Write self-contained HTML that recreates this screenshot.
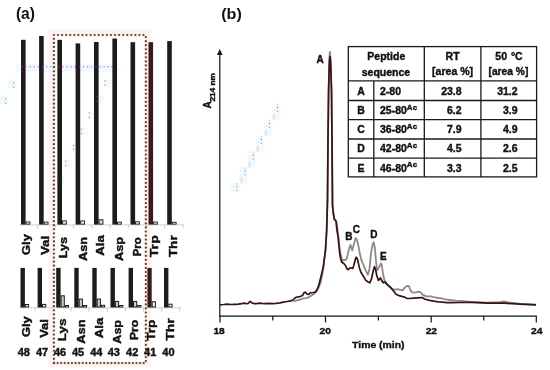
<!DOCTYPE html>
<html><head><meta charset="utf-8"><style>
html,body{margin:0;padding:0;background:#fff;}
svg{display:block;font-family:"Liberation Sans", sans-serif;-webkit-font-smoothing:antialiased;will-change:transform;}
text{stroke:#111;stroke-width:0.38px;paint-order:stroke;}
</style></head><body>
<svg width="550" height="370" viewBox="0 0 550 370">
<rect width="550" height="370" fill="#fff"/>
<rect x="50.7" y="31.8" width="98.3" height="333.4" fill="none" stroke="#fdf2f5" stroke-width="4.4"/>
<rect x="16.1" y="64.1" width="102" height="7.7" fill="#eafcfc"/>
<rect x="104.1" y="79.4" width="7.4" height="7.6" fill="#eafcfc"/>
<rect x="96.2" y="95.5" width="7.4" height="7.6" fill="#eafcfc"/>
<rect x="88.3" y="111.6" width="7.4" height="7.6" fill="#eafcfc"/>
<rect x="80.4" y="127.7" width="7.4" height="7.6" fill="#eafcfc"/>
<rect x="72.5" y="143.9" width="7.4" height="7.6" fill="#eafcfc"/>
<rect x="64.7" y="159.7" width="7.4" height="7.6" fill="#eafcfc"/>
<rect x="56.8" y="175.8" width="7.4" height="7.6" fill="#eafcfc"/>
<rect x="8.0" y="79.7" width="8.1" height="8.1" fill="#eafcfc"/>
<rect x="0.0" y="95.8" width="8.1" height="8.1" fill="#eafcfc"/>
<rect x="272.0" y="103.8" width="8" height="16" fill="#eafcfc"/>
<rect x="273.0" y="113.7" width="1.8" height="6.2" fill="#ffd0f2"/>
<rect x="263.9" y="119.9" width="8" height="16" fill="#eafcfc"/>
<rect x="264.9" y="129.8" width="1.8" height="6.2" fill="#ffd0f2"/>
<rect x="255.8" y="135.8" width="8" height="16" fill="#eafcfc"/>
<rect x="256.8" y="145.7" width="1.8" height="6.2" fill="#ffd0f2"/>
<rect x="247.7" y="151.6" width="8" height="16" fill="#eafcfc"/>
<rect x="248.7" y="161.5" width="1.8" height="6.2" fill="#ffd0f2"/>
<rect x="239.6" y="167.4" width="8" height="16" fill="#eafcfc"/>
<rect x="240.6" y="177.3" width="1.8" height="6.2" fill="#ffd0f2"/>
<rect x="231.5" y="183.2" width="8" height="9" fill="#eafcfc"/>
<line x1="19" y1="224.9" x2="184" y2="224.9" stroke="#c8c8c8" stroke-width="0.8"/>
<line x1="37.3" y1="224.9" x2="37.3" y2="228.5" stroke="#c0c0c0" stroke-width="0.8"/>
<line x1="55.5" y1="224.9" x2="55.5" y2="228.5" stroke="#c0c0c0" stroke-width="0.8"/>
<line x1="73.7" y1="224.9" x2="73.7" y2="228.5" stroke="#c0c0c0" stroke-width="0.8"/>
<line x1="91.9" y1="224.9" x2="91.9" y2="228.5" stroke="#c0c0c0" stroke-width="0.8"/>
<line x1="110.1" y1="224.9" x2="110.1" y2="228.5" stroke="#c0c0c0" stroke-width="0.8"/>
<line x1="128.3" y1="224.9" x2="128.3" y2="228.5" stroke="#c0c0c0" stroke-width="0.8"/>
<line x1="146.5" y1="224.9" x2="146.5" y2="228.5" stroke="#c0c0c0" stroke-width="0.8"/>
<line x1="164.7" y1="224.9" x2="164.7" y2="228.5" stroke="#c0c0c0" stroke-width="0.8"/>
<line x1="182.9" y1="224.9" x2="182.9" y2="228.5" stroke="#c0c0c0" stroke-width="0.8"/>
<line x1="19" y1="307.8" x2="182" y2="307.8" stroke="#c8c8c8" stroke-width="0.8"/>
<line x1="35.1" y1="307.8" x2="35.1" y2="311.5" stroke="#c0c0c0" stroke-width="0.8"/>
<line x1="53.2" y1="307.8" x2="53.2" y2="311.5" stroke="#c0c0c0" stroke-width="0.8"/>
<line x1="71.2" y1="307.8" x2="71.2" y2="311.5" stroke="#c0c0c0" stroke-width="0.8"/>
<line x1="89.2" y1="307.8" x2="89.2" y2="311.5" stroke="#c0c0c0" stroke-width="0.8"/>
<line x1="107.3" y1="307.8" x2="107.3" y2="311.5" stroke="#c0c0c0" stroke-width="0.8"/>
<line x1="125.3" y1="307.8" x2="125.3" y2="311.5" stroke="#c0c0c0" stroke-width="0.8"/>
<line x1="143.4" y1="307.8" x2="143.4" y2="311.5" stroke="#c0c0c0" stroke-width="0.8"/>
<line x1="161.5" y1="307.8" x2="161.5" y2="311.5" stroke="#c0c0c0" stroke-width="0.8"/>
<line x1="179.5" y1="307.8" x2="179.5" y2="311.5" stroke="#c0c0c0" stroke-width="0.8"/>
<rect x="21" y="39.8" width="4.6" height="184.8" fill="#1c1c1c"/>
<rect x="26.05" y="221.95" width="3.9" height="2.20" fill="#f4f4f4" stroke="#1c1c1c" stroke-width="0.9"/>
<rect x="39.1" y="36" width="4.6" height="188.6" fill="#1c1c1c"/>
<rect x="44.15" y="222.05" width="3.9" height="2.10" fill="#f4f4f4" stroke="#1c1c1c" stroke-width="0.9"/>
<rect x="57.4" y="39.8" width="4.6" height="184.8" fill="#1c1c1c"/>
<rect x="62.45" y="220.85" width="3.9" height="3.30" fill="#e8e8e8" stroke="#1c1c1c" stroke-width="0.9"/>
<rect x="75.6" y="43.4" width="4.6" height="181.2" fill="#1c1c1c"/>
<rect x="80.65" y="220.95" width="3.9" height="3.20" fill="#e8e8e8" stroke="#1c1c1c" stroke-width="0.9"/>
<rect x="94" y="42" width="4.6" height="182.6" fill="#1c1c1c"/>
<rect x="99.05" y="219.75" width="3.9" height="4.40" fill="#d8d8d8" stroke="#1c1c1c" stroke-width="0.9"/>
<rect x="112.4" y="38.5" width="4.6" height="186.1" fill="#1c1c1c"/>
<rect x="117.45" y="222.15" width="3.9" height="2.00" fill="#f0f0f0" stroke="#1c1c1c" stroke-width="0.9"/>
<rect x="130.5" y="42.2" width="4.6" height="182.4" fill="#1c1c1c"/>
<rect x="135.55" y="221.75" width="3.9" height="2.40" fill="#f0f0f0" stroke="#1c1c1c" stroke-width="0.9"/>
<rect x="148.5" y="42.2" width="4.6" height="182.4" fill="#3a1826"/>
<rect x="153.55" y="222.05" width="3.9" height="2.10" fill="#f4f4f4" stroke="#1c1c1c" stroke-width="0.9"/>
<rect x="167.2" y="41.1" width="4.6" height="183.5" fill="#1c1c1c"/>
<rect x="172.25" y="222.25" width="3.9" height="1.90" fill="#f4f4f4" stroke="#1c1c1c" stroke-width="0.9"/>
<rect x="20.5" y="267.9" width="4.4" height="39.6" fill="#1c1c1c"/>
<rect x="25.40" y="304.50" width="3.2" height="2.50" fill="#fafafa" stroke="#1c1c1c" stroke-width="1.0"/>
<rect x="37.6" y="267.9" width="4.4" height="39.6" fill="#1c1c1c"/>
<rect x="42.50" y="304.40" width="3.2" height="2.60" fill="#fafafa" stroke="#1c1c1c" stroke-width="1.0"/>
<rect x="56.2" y="267.9" width="4.4" height="39.6" fill="#1c1c1c"/>
<rect x="61.10" y="295.80" width="3.2" height="11.20" fill="#cbcbcb" stroke="#1c1c1c" stroke-width="1.0"/>
<rect x="65.30" y="305.50" width="3.2" height="1.50" fill="#fafafa" stroke="#1c1c1c" stroke-width="1.0"/>
<rect x="74.3" y="267.9" width="4.4" height="39.6" fill="#1c1c1c"/>
<rect x="79.20" y="299.10" width="3.2" height="7.90" fill="#cbcbcb" stroke="#1c1c1c" stroke-width="1.0"/>
<rect x="83.40" y="305.50" width="3.2" height="1.50" fill="#fafafa" stroke="#1c1c1c" stroke-width="1.0"/>
<rect x="92.3" y="267.9" width="4.4" height="39.6" fill="#1c1c1c"/>
<rect x="97.20" y="299.00" width="3.2" height="8.00" fill="#cbcbcb" stroke="#1c1c1c" stroke-width="1.0"/>
<rect x="101.40" y="305.30" width="3.2" height="1.70" fill="#fafafa" stroke="#1c1c1c" stroke-width="1.0"/>
<rect x="110.5" y="267.9" width="4.4" height="39.6" fill="#1c1c1c"/>
<rect x="115.40" y="301.40" width="3.2" height="5.60" fill="#cbcbcb" stroke="#1c1c1c" stroke-width="1.0"/>
<rect x="119.60" y="305.50" width="3.2" height="1.50" fill="#fafafa" stroke="#1c1c1c" stroke-width="1.0"/>
<rect x="128.6" y="267.9" width="4.4" height="39.6" fill="#1c1c1c"/>
<rect x="133.50" y="301.40" width="3.2" height="5.60" fill="#cbcbcb" stroke="#1c1c1c" stroke-width="1.0"/>
<rect x="137.70" y="305.50" width="3.2" height="1.50" fill="#fafafa" stroke="#1c1c1c" stroke-width="1.0"/>
<rect x="147.3" y="267.9" width="4.4" height="39.6" fill="#3a1826"/>
<rect x="152.20" y="301.80" width="3.2" height="5.20" fill="#fafafa" stroke="#1c1c1c" stroke-width="1.0"/>
<rect x="164.0" y="267.9" width="4.4" height="39.6" fill="#1c1c1c"/>
<rect x="168.90" y="304.20" width="3.2" height="2.80" fill="#fafafa" stroke="#1c1c1c" stroke-width="1.0"/>
<circle cx="22.00" cy="66.80" r="0.75" fill="#c0103c"/>
<circle cx="26.10" cy="66.80" r="0.75" fill="#ff66d8"/>
<circle cx="30.20" cy="66.80" r="0.75" fill="#ff66d8"/>
<circle cx="34.30" cy="66.80" r="0.75" fill="#ff66d8"/>
<circle cx="38.40" cy="66.80" r="0.75" fill="#ff66d8"/>
<circle cx="42.50" cy="66.80" r="0.75" fill="#c0103c"/>
<circle cx="46.60" cy="66.80" r="0.75" fill="#ff66d8"/>
<circle cx="50.70" cy="66.80" r="0.75" fill="#ff66d8"/>
<circle cx="54.80" cy="66.80" r="0.75" fill="#ff66d8"/>
<circle cx="58.90" cy="66.80" r="0.75" fill="#c0103c"/>
<circle cx="63.00" cy="66.80" r="0.75" fill="#ff66d8"/>
<circle cx="67.10" cy="66.80" r="0.75" fill="#ff66d8"/>
<circle cx="71.20" cy="66.80" r="0.75" fill="#ff66d8"/>
<circle cx="75.30" cy="66.80" r="0.75" fill="#c0103c"/>
<circle cx="79.40" cy="66.80" r="0.75" fill="#c0103c"/>
<circle cx="83.50" cy="66.80" r="0.75" fill="#ff66d8"/>
<circle cx="87.60" cy="66.80" r="0.75" fill="#ff66d8"/>
<circle cx="91.70" cy="66.80" r="0.75" fill="#ff66d8"/>
<circle cx="95.80" cy="66.80" r="0.75" fill="#c0103c"/>
<circle cx="99.90" cy="66.80" r="0.75" fill="#ff66d8"/>
<circle cx="104.00" cy="66.80" r="0.75" fill="#ff66d8"/>
<circle cx="108.10" cy="66.80" r="0.75" fill="#ff66d8"/>
<circle cx="112.20" cy="66.80" r="0.75" fill="#c0103c"/>
<circle cx="22.00" cy="70.90" r="0.75" fill="#c0103c"/>
<circle cx="105.10" cy="80.90" r="0.75" fill="#ff66d8"/>
<circle cx="105.10" cy="85.10" r="0.75" fill="#ff66d8"/>
<circle cx="97.20" cy="97.00" r="0.75" fill="#c0103c"/>
<circle cx="97.20" cy="101.20" r="0.75" fill="#c0103c"/>
<circle cx="89.30" cy="113.10" r="0.75" fill="#ff66d8"/>
<circle cx="89.30" cy="117.30" r="0.75" fill="#ff66d8"/>
<circle cx="81.40" cy="129.20" r="0.75" fill="#ff66d8"/>
<circle cx="81.40" cy="133.40" r="0.75" fill="#ff66d8"/>
<circle cx="73.50" cy="145.40" r="0.75" fill="#ff66d8"/>
<circle cx="73.50" cy="149.60" r="0.75" fill="#ff66d8"/>
<circle cx="65.70" cy="161.20" r="0.75" fill="#ff66d8"/>
<circle cx="65.70" cy="165.40" r="0.75" fill="#ff66d8"/>
<circle cx="57.80" cy="177.30" r="0.75" fill="#c0103c"/>
<circle cx="57.80" cy="181.50" r="0.75" fill="#c0103c"/>
<circle cx="13.70" cy="83.00" r="0.75" fill="#ff66d8"/>
<circle cx="13.70" cy="87.20" r="0.75" fill="#ff66d8"/>
<circle cx="5.70" cy="99.10" r="0.75" fill="#ff66d8"/>
<circle cx="5.70" cy="103.30" r="0.75" fill="#ff66d8"/>
<circle cx="277.50" cy="104.30" r="0.5" fill="#ff66d8"/>
<circle cx="277.50" cy="107.40" r="0.75" fill="#ff66d8"/>
<circle cx="277.50" cy="111.20" r="0.75" fill="#ff66d8"/>
<circle cx="269.40" cy="120.40" r="0.5" fill="#ff66d8"/>
<circle cx="269.40" cy="123.50" r="0.75" fill="#ff66d8"/>
<circle cx="269.40" cy="127.30" r="0.75" fill="#ff66d8"/>
<circle cx="261.30" cy="136.30" r="0.5" fill="#ff66d8"/>
<circle cx="261.30" cy="139.40" r="0.75" fill="#ff66d8"/>
<circle cx="261.30" cy="143.20" r="0.75" fill="#ff66d8"/>
<circle cx="253.20" cy="152.10" r="0.5" fill="#ff66d8"/>
<circle cx="253.20" cy="155.20" r="0.75" fill="#ff66d8"/>
<circle cx="253.20" cy="159.00" r="0.75" fill="#ff66d8"/>
<circle cx="245.10" cy="167.90" r="0.5" fill="#ff66d8"/>
<circle cx="245.10" cy="171.00" r="0.75" fill="#ff66d8"/>
<circle cx="245.10" cy="174.80" r="0.75" fill="#ff66d8"/>
<circle cx="237.00" cy="183.70" r="0.5" fill="#ff66d8"/>
<circle cx="237.00" cy="186.80" r="0.75" fill="#ff66d8"/>
<circle cx="237.00" cy="190.60" r="0.75" fill="#ff66d8"/>
<circle cx="53.95" cy="35.00" r="1.9" fill="#f7dccb" opacity="0.55"/>
<circle cx="58.02" cy="35.00" r="1.9" fill="#f7dccb" opacity="0.55"/>
<circle cx="62.09" cy="35.00" r="1.9" fill="#f7dccb" opacity="0.55"/>
<circle cx="66.16" cy="35.00" r="1.9" fill="#f7dccb" opacity="0.55"/>
<circle cx="70.23" cy="35.00" r="1.9" fill="#f7dccb" opacity="0.55"/>
<circle cx="74.30" cy="35.00" r="1.9" fill="#f7dccb" opacity="0.55"/>
<circle cx="78.37" cy="35.00" r="1.9" fill="#f7dccb" opacity="0.55"/>
<circle cx="82.44" cy="35.00" r="1.9" fill="#f7dccb" opacity="0.55"/>
<circle cx="86.51" cy="35.00" r="1.9" fill="#f7dccb" opacity="0.55"/>
<circle cx="90.58" cy="35.00" r="1.9" fill="#f7dccb" opacity="0.55"/>
<circle cx="94.65" cy="35.00" r="1.9" fill="#f7dccb" opacity="0.55"/>
<circle cx="98.72" cy="35.00" r="1.9" fill="#f7dccb" opacity="0.55"/>
<circle cx="102.80" cy="35.00" r="1.9" fill="#f7dccb" opacity="0.55"/>
<circle cx="106.87" cy="35.00" r="1.9" fill="#f7dccb" opacity="0.55"/>
<circle cx="110.94" cy="35.00" r="1.9" fill="#f7dccb" opacity="0.55"/>
<circle cx="115.01" cy="35.00" r="1.9" fill="#f7dccb" opacity="0.55"/>
<circle cx="119.08" cy="35.00" r="1.9" fill="#f7dccb" opacity="0.55"/>
<circle cx="123.15" cy="35.00" r="1.9" fill="#f7dccb" opacity="0.55"/>
<circle cx="127.22" cy="35.00" r="1.9" fill="#f7dccb" opacity="0.55"/>
<circle cx="131.29" cy="35.00" r="1.9" fill="#f7dccb" opacity="0.55"/>
<circle cx="135.36" cy="35.00" r="1.9" fill="#f7dccb" opacity="0.55"/>
<circle cx="139.43" cy="35.00" r="1.9" fill="#f7dccb" opacity="0.55"/>
<circle cx="143.50" cy="35.00" r="1.9" fill="#f7dccb" opacity="0.55"/>
<circle cx="53.90" cy="38.85" r="1.9" fill="#f7dccb" opacity="0.55"/>
<circle cx="53.90" cy="42.90" r="1.9" fill="#f7dccb" opacity="0.55"/>
<circle cx="53.90" cy="46.95" r="1.9" fill="#f7dccb" opacity="0.55"/>
<circle cx="53.90" cy="51.00" r="1.9" fill="#f7dccb" opacity="0.55"/>
<circle cx="53.90" cy="55.05" r="1.9" fill="#f7dccb" opacity="0.55"/>
<circle cx="53.90" cy="59.10" r="1.9" fill="#f7dccb" opacity="0.55"/>
<circle cx="53.90" cy="63.15" r="1.9" fill="#f7dccb" opacity="0.55"/>
<circle cx="53.90" cy="67.20" r="1.9" fill="#f7dccb" opacity="0.55"/>
<circle cx="53.90" cy="71.26" r="1.9" fill="#f7dccb" opacity="0.55"/>
<circle cx="53.90" cy="75.31" r="1.9" fill="#f7dccb" opacity="0.55"/>
<circle cx="53.90" cy="79.36" r="1.9" fill="#f7dccb" opacity="0.55"/>
<circle cx="53.90" cy="83.41" r="1.9" fill="#f7dccb" opacity="0.55"/>
<circle cx="53.90" cy="87.46" r="1.9" fill="#f7dccb" opacity="0.55"/>
<circle cx="53.90" cy="91.51" r="1.9" fill="#f7dccb" opacity="0.55"/>
<circle cx="53.90" cy="95.56" r="1.9" fill="#f7dccb" opacity="0.55"/>
<circle cx="53.90" cy="99.61" r="1.9" fill="#f7dccb" opacity="0.55"/>
<circle cx="53.90" cy="103.66" r="1.9" fill="#f7dccb" opacity="0.55"/>
<circle cx="53.90" cy="107.71" r="1.9" fill="#f7dccb" opacity="0.55"/>
<circle cx="53.90" cy="111.76" r="1.9" fill="#f7dccb" opacity="0.55"/>
<circle cx="53.90" cy="115.81" r="1.9" fill="#f7dccb" opacity="0.55"/>
<circle cx="53.90" cy="119.86" r="1.9" fill="#f7dccb" opacity="0.55"/>
<circle cx="53.90" cy="123.91" r="1.9" fill="#f7dccb" opacity="0.55"/>
<circle cx="53.90" cy="127.96" r="1.9" fill="#f7dccb" opacity="0.55"/>
<circle cx="53.90" cy="132.01" r="1.9" fill="#f7dccb" opacity="0.55"/>
<circle cx="53.90" cy="136.07" r="1.9" fill="#f7dccb" opacity="0.55"/>
<circle cx="53.90" cy="140.12" r="1.9" fill="#f7dccb" opacity="0.55"/>
<circle cx="53.90" cy="144.17" r="1.9" fill="#f7dccb" opacity="0.55"/>
<circle cx="53.90" cy="148.22" r="1.9" fill="#f7dccb" opacity="0.55"/>
<circle cx="53.90" cy="152.27" r="1.9" fill="#f7dccb" opacity="0.55"/>
<circle cx="53.90" cy="156.32" r="1.9" fill="#f7dccb" opacity="0.55"/>
<circle cx="53.90" cy="160.37" r="1.9" fill="#f7dccb" opacity="0.55"/>
<circle cx="53.90" cy="164.42" r="1.9" fill="#f7dccb" opacity="0.55"/>
<circle cx="53.90" cy="168.47" r="1.9" fill="#f7dccb" opacity="0.55"/>
<circle cx="53.90" cy="172.52" r="1.9" fill="#f7dccb" opacity="0.55"/>
<circle cx="53.90" cy="176.57" r="1.9" fill="#f7dccb" opacity="0.55"/>
<circle cx="53.90" cy="180.62" r="1.9" fill="#f7dccb" opacity="0.55"/>
<circle cx="53.90" cy="184.67" r="1.9" fill="#f7dccb" opacity="0.55"/>
<circle cx="53.90" cy="188.72" r="1.9" fill="#f7dccb" opacity="0.55"/>
<circle cx="53.90" cy="192.77" r="1.9" fill="#f7dccb" opacity="0.55"/>
<circle cx="53.90" cy="196.82" r="1.9" fill="#f7dccb" opacity="0.55"/>
<circle cx="53.90" cy="200.88" r="1.9" fill="#f7dccb" opacity="0.55"/>
<circle cx="53.90" cy="204.93" r="1.9" fill="#f7dccb" opacity="0.55"/>
<circle cx="53.90" cy="208.98" r="1.9" fill="#f7dccb" opacity="0.55"/>
<circle cx="53.90" cy="213.03" r="1.9" fill="#f7dccb" opacity="0.55"/>
<circle cx="53.90" cy="217.08" r="1.9" fill="#f7dccb" opacity="0.55"/>
<circle cx="53.90" cy="221.13" r="1.9" fill="#f7dccb" opacity="0.55"/>
<circle cx="53.90" cy="225.18" r="1.9" fill="#f7dccb" opacity="0.55"/>
<circle cx="53.90" cy="229.23" r="1.9" fill="#f7dccb" opacity="0.55"/>
<circle cx="53.90" cy="233.28" r="1.9" fill="#f7dccb" opacity="0.55"/>
<circle cx="53.90" cy="237.33" r="1.9" fill="#f7dccb" opacity="0.55"/>
<circle cx="53.90" cy="241.38" r="1.9" fill="#f7dccb" opacity="0.55"/>
<circle cx="53.90" cy="245.43" r="1.9" fill="#f7dccb" opacity="0.55"/>
<circle cx="53.90" cy="249.48" r="1.9" fill="#f7dccb" opacity="0.55"/>
<circle cx="53.90" cy="253.53" r="1.9" fill="#f7dccb" opacity="0.55"/>
<circle cx="53.90" cy="257.58" r="1.9" fill="#f7dccb" opacity="0.55"/>
<circle cx="53.90" cy="261.63" r="1.9" fill="#f7dccb" opacity="0.55"/>
<circle cx="53.90" cy="265.69" r="1.9" fill="#f7dccb" opacity="0.55"/>
<circle cx="53.90" cy="269.74" r="1.9" fill="#f7dccb" opacity="0.55"/>
<circle cx="53.90" cy="273.79" r="1.9" fill="#f7dccb" opacity="0.55"/>
<circle cx="53.90" cy="277.84" r="1.9" fill="#f7dccb" opacity="0.55"/>
<circle cx="53.90" cy="281.89" r="1.9" fill="#f7dccb" opacity="0.55"/>
<circle cx="53.90" cy="285.94" r="1.9" fill="#f7dccb" opacity="0.55"/>
<circle cx="53.90" cy="289.99" r="1.9" fill="#f7dccb" opacity="0.55"/>
<circle cx="53.90" cy="294.04" r="1.9" fill="#f7dccb" opacity="0.55"/>
<circle cx="53.90" cy="298.09" r="1.9" fill="#f7dccb" opacity="0.55"/>
<circle cx="53.90" cy="302.14" r="1.9" fill="#f7dccb" opacity="0.55"/>
<circle cx="53.90" cy="306.19" r="1.9" fill="#f7dccb" opacity="0.55"/>
<circle cx="53.90" cy="310.24" r="1.9" fill="#f7dccb" opacity="0.55"/>
<circle cx="53.90" cy="314.29" r="1.9" fill="#f7dccb" opacity="0.55"/>
<circle cx="53.90" cy="318.34" r="1.9" fill="#f7dccb" opacity="0.55"/>
<circle cx="53.90" cy="322.39" r="1.9" fill="#f7dccb" opacity="0.55"/>
<circle cx="53.90" cy="326.44" r="1.9" fill="#f7dccb" opacity="0.55"/>
<circle cx="53.90" cy="330.50" r="1.9" fill="#f7dccb" opacity="0.55"/>
<circle cx="53.90" cy="334.55" r="1.9" fill="#f7dccb" opacity="0.55"/>
<circle cx="53.90" cy="338.60" r="1.9" fill="#f7dccb" opacity="0.55"/>
<circle cx="53.90" cy="342.65" r="1.9" fill="#f7dccb" opacity="0.55"/>
<circle cx="53.90" cy="346.70" r="1.9" fill="#f7dccb" opacity="0.55"/>
<circle cx="53.90" cy="350.75" r="1.9" fill="#f7dccb" opacity="0.55"/>
<circle cx="53.90" cy="354.80" r="1.9" fill="#f7dccb" opacity="0.55"/>
<circle cx="53.90" cy="358.85" r="1.9" fill="#f7dccb" opacity="0.55"/>
<circle cx="53.90" cy="362.90" r="1.9" fill="#f7dccb" opacity="0.55"/>
<circle cx="54.00" cy="363.00" r="1.9" fill="#f7dccb" opacity="0.55"/>
<circle cx="57.59" cy="363.00" r="1.9" fill="#f7dccb" opacity="0.55"/>
<circle cx="61.18" cy="363.00" r="1.9" fill="#f7dccb" opacity="0.55"/>
<circle cx="64.76" cy="363.00" r="1.9" fill="#f7dccb" opacity="0.55"/>
<circle cx="68.35" cy="363.00" r="1.9" fill="#f7dccb" opacity="0.55"/>
<circle cx="71.94" cy="363.00" r="1.9" fill="#f7dccb" opacity="0.55"/>
<circle cx="75.53" cy="363.00" r="1.9" fill="#f7dccb" opacity="0.55"/>
<circle cx="79.12" cy="363.00" r="1.9" fill="#f7dccb" opacity="0.55"/>
<circle cx="82.70" cy="363.00" r="1.9" fill="#f7dccb" opacity="0.55"/>
<circle cx="86.29" cy="363.00" r="1.9" fill="#f7dccb" opacity="0.55"/>
<circle cx="89.88" cy="363.00" r="1.9" fill="#f7dccb" opacity="0.55"/>
<circle cx="93.47" cy="363.00" r="1.9" fill="#f7dccb" opacity="0.55"/>
<circle cx="97.06" cy="363.00" r="1.9" fill="#f7dccb" opacity="0.55"/>
<circle cx="100.64" cy="363.00" r="1.9" fill="#f7dccb" opacity="0.55"/>
<circle cx="104.23" cy="363.00" r="1.9" fill="#f7dccb" opacity="0.55"/>
<circle cx="107.82" cy="363.00" r="1.9" fill="#f7dccb" opacity="0.55"/>
<circle cx="111.41" cy="363.00" r="1.9" fill="#f7dccb" opacity="0.55"/>
<circle cx="115.00" cy="363.00" r="1.9" fill="#f7dccb" opacity="0.55"/>
<circle cx="118.58" cy="363.00" r="1.9" fill="#f7dccb" opacity="0.55"/>
<circle cx="122.17" cy="363.00" r="1.9" fill="#f7dccb" opacity="0.55"/>
<circle cx="125.76" cy="363.00" r="1.9" fill="#f7dccb" opacity="0.55"/>
<circle cx="129.35" cy="363.00" r="1.9" fill="#f7dccb" opacity="0.55"/>
<circle cx="132.94" cy="363.00" r="1.9" fill="#f7dccb" opacity="0.55"/>
<circle cx="136.52" cy="363.00" r="1.9" fill="#f7dccb" opacity="0.55"/>
<circle cx="140.11" cy="363.00" r="1.9" fill="#f7dccb" opacity="0.55"/>
<circle cx="143.70" cy="363.00" r="1.9" fill="#f7dccb" opacity="0.55"/>
<circle cx="145.85" cy="37.10" r="1.9" fill="#f7dccb" opacity="0.55"/>
<circle cx="145.85" cy="41.15" r="1.9" fill="#f7dccb" opacity="0.55"/>
<circle cx="145.85" cy="45.20" r="1.9" fill="#f7dccb" opacity="0.55"/>
<circle cx="145.85" cy="49.25" r="1.9" fill="#f7dccb" opacity="0.55"/>
<circle cx="145.85" cy="53.30" r="1.9" fill="#f7dccb" opacity="0.55"/>
<circle cx="145.85" cy="57.35" r="1.9" fill="#f7dccb" opacity="0.55"/>
<circle cx="145.85" cy="61.40" r="1.9" fill="#f7dccb" opacity="0.55"/>
<circle cx="145.85" cy="65.45" r="1.9" fill="#f7dccb" opacity="0.55"/>
<circle cx="145.85" cy="69.50" r="1.9" fill="#f7dccb" opacity="0.55"/>
<circle cx="145.85" cy="73.55" r="1.9" fill="#f7dccb" opacity="0.55"/>
<circle cx="145.85" cy="77.60" r="1.9" fill="#f7dccb" opacity="0.55"/>
<circle cx="145.85" cy="81.65" r="1.9" fill="#f7dccb" opacity="0.55"/>
<circle cx="145.85" cy="85.70" r="1.9" fill="#f7dccb" opacity="0.55"/>
<circle cx="145.85" cy="89.75" r="1.9" fill="#f7dccb" opacity="0.55"/>
<circle cx="145.85" cy="93.80" r="1.9" fill="#f7dccb" opacity="0.55"/>
<circle cx="145.85" cy="97.85" r="1.9" fill="#f7dccb" opacity="0.55"/>
<circle cx="145.85" cy="101.90" r="1.9" fill="#f7dccb" opacity="0.55"/>
<circle cx="145.85" cy="105.95" r="1.9" fill="#f7dccb" opacity="0.55"/>
<circle cx="145.85" cy="110.00" r="1.9" fill="#f7dccb" opacity="0.55"/>
<circle cx="145.85" cy="114.05" r="1.9" fill="#f7dccb" opacity="0.55"/>
<circle cx="145.85" cy="118.10" r="1.9" fill="#f7dccb" opacity="0.55"/>
<circle cx="145.85" cy="122.15" r="1.9" fill="#f7dccb" opacity="0.55"/>
<circle cx="145.85" cy="126.20" r="1.9" fill="#f7dccb" opacity="0.55"/>
<circle cx="145.85" cy="130.25" r="1.9" fill="#f7dccb" opacity="0.55"/>
<circle cx="145.85" cy="134.30" r="1.9" fill="#f7dccb" opacity="0.55"/>
<circle cx="145.85" cy="138.35" r="1.9" fill="#f7dccb" opacity="0.55"/>
<circle cx="145.85" cy="142.40" r="1.9" fill="#f7dccb" opacity="0.55"/>
<circle cx="145.85" cy="146.45" r="1.9" fill="#f7dccb" opacity="0.55"/>
<circle cx="145.85" cy="150.50" r="1.9" fill="#f7dccb" opacity="0.55"/>
<circle cx="145.85" cy="154.55" r="1.9" fill="#f7dccb" opacity="0.55"/>
<circle cx="145.85" cy="158.60" r="1.9" fill="#f7dccb" opacity="0.55"/>
<circle cx="145.85" cy="162.65" r="1.9" fill="#f7dccb" opacity="0.55"/>
<circle cx="145.85" cy="166.70" r="1.9" fill="#f7dccb" opacity="0.55"/>
<circle cx="145.85" cy="170.75" r="1.9" fill="#f7dccb" opacity="0.55"/>
<circle cx="145.85" cy="174.80" r="1.9" fill="#f7dccb" opacity="0.55"/>
<circle cx="145.85" cy="178.85" r="1.9" fill="#f7dccb" opacity="0.55"/>
<circle cx="145.85" cy="182.90" r="1.9" fill="#f7dccb" opacity="0.55"/>
<circle cx="145.85" cy="186.95" r="1.9" fill="#f7dccb" opacity="0.55"/>
<circle cx="145.85" cy="191.00" r="1.9" fill="#f7dccb" opacity="0.55"/>
<circle cx="145.85" cy="195.05" r="1.9" fill="#f7dccb" opacity="0.55"/>
<circle cx="145.85" cy="199.10" r="1.9" fill="#f7dccb" opacity="0.55"/>
<circle cx="145.85" cy="203.15" r="1.9" fill="#f7dccb" opacity="0.55"/>
<circle cx="145.85" cy="207.20" r="1.9" fill="#f7dccb" opacity="0.55"/>
<circle cx="145.85" cy="211.25" r="1.9" fill="#f7dccb" opacity="0.55"/>
<circle cx="145.85" cy="215.30" r="1.9" fill="#f7dccb" opacity="0.55"/>
<circle cx="145.85" cy="219.35" r="1.9" fill="#f7dccb" opacity="0.55"/>
<circle cx="145.85" cy="223.40" r="1.9" fill="#f7dccb" opacity="0.55"/>
<circle cx="145.85" cy="227.45" r="1.9" fill="#f7dccb" opacity="0.55"/>
<circle cx="145.85" cy="231.50" r="1.9" fill="#f7dccb" opacity="0.55"/>
<circle cx="145.85" cy="235.55" r="1.9" fill="#f7dccb" opacity="0.55"/>
<circle cx="145.85" cy="239.60" r="1.9" fill="#f7dccb" opacity="0.55"/>
<circle cx="145.85" cy="243.65" r="1.9" fill="#f7dccb" opacity="0.55"/>
<circle cx="145.85" cy="247.70" r="1.9" fill="#f7dccb" opacity="0.55"/>
<circle cx="145.85" cy="251.75" r="1.9" fill="#f7dccb" opacity="0.55"/>
<circle cx="145.85" cy="255.80" r="1.9" fill="#f7dccb" opacity="0.55"/>
<circle cx="145.85" cy="259.85" r="1.9" fill="#f7dccb" opacity="0.55"/>
<circle cx="145.85" cy="263.90" r="1.9" fill="#f7dccb" opacity="0.55"/>
<circle cx="145.85" cy="267.95" r="1.9" fill="#f7dccb" opacity="0.55"/>
<circle cx="145.85" cy="272.00" r="1.9" fill="#f7dccb" opacity="0.55"/>
<circle cx="145.85" cy="276.05" r="1.9" fill="#f7dccb" opacity="0.55"/>
<circle cx="145.85" cy="280.10" r="1.9" fill="#f7dccb" opacity="0.55"/>
<circle cx="145.85" cy="284.15" r="1.9" fill="#f7dccb" opacity="0.55"/>
<circle cx="145.85" cy="288.20" r="1.9" fill="#f7dccb" opacity="0.55"/>
<circle cx="145.85" cy="292.25" r="1.9" fill="#f7dccb" opacity="0.55"/>
<circle cx="145.85" cy="296.30" r="1.9" fill="#f7dccb" opacity="0.55"/>
<circle cx="145.85" cy="300.35" r="1.9" fill="#f7dccb" opacity="0.55"/>
<circle cx="145.85" cy="304.40" r="1.9" fill="#f7dccb" opacity="0.55"/>
<circle cx="145.85" cy="308.45" r="1.9" fill="#f7dccb" opacity="0.55"/>
<circle cx="145.85" cy="312.50" r="1.9" fill="#f7dccb" opacity="0.55"/>
<circle cx="145.85" cy="316.55" r="1.9" fill="#f7dccb" opacity="0.55"/>
<circle cx="145.85" cy="320.60" r="1.9" fill="#f7dccb" opacity="0.55"/>
<circle cx="145.85" cy="324.65" r="1.9" fill="#f7dccb" opacity="0.55"/>
<circle cx="145.85" cy="328.70" r="1.9" fill="#f7dccb" opacity="0.55"/>
<circle cx="145.85" cy="332.75" r="1.9" fill="#f7dccb" opacity="0.55"/>
<circle cx="145.85" cy="336.80" r="1.9" fill="#f7dccb" opacity="0.55"/>
<circle cx="145.85" cy="340.85" r="1.9" fill="#f7dccb" opacity="0.55"/>
<circle cx="145.85" cy="344.90" r="1.9" fill="#f7dccb" opacity="0.55"/>
<circle cx="145.85" cy="348.95" r="1.9" fill="#f7dccb" opacity="0.55"/>
<circle cx="145.85" cy="353.00" r="1.9" fill="#f7dccb" opacity="0.55"/>
<circle cx="145.85" cy="357.05" r="1.9" fill="#f7dccb" opacity="0.55"/>
<circle cx="145.85" cy="361.10" r="1.9" fill="#f7dccb" opacity="0.55"/>
<circle cx="53.95" cy="35.00" r="1.1" fill="#663c26"/>
<circle cx="58.02" cy="35.00" r="1.1" fill="#663c26"/>
<circle cx="62.09" cy="35.00" r="1.1" fill="#663c26"/>
<circle cx="66.16" cy="35.00" r="1.1" fill="#663c26"/>
<circle cx="70.23" cy="35.00" r="1.1" fill="#663c26"/>
<circle cx="74.30" cy="35.00" r="1.1" fill="#663c26"/>
<circle cx="78.37" cy="35.00" r="1.1" fill="#663c26"/>
<circle cx="82.44" cy="35.00" r="1.1" fill="#663c26"/>
<circle cx="86.51" cy="35.00" r="1.1" fill="#663c26"/>
<circle cx="90.58" cy="35.00" r="1.1" fill="#663c26"/>
<circle cx="94.65" cy="35.00" r="1.1" fill="#663c26"/>
<circle cx="98.72" cy="35.00" r="1.1" fill="#663c26"/>
<circle cx="102.80" cy="35.00" r="1.1" fill="#663c26"/>
<circle cx="106.87" cy="35.00" r="1.1" fill="#663c26"/>
<circle cx="110.94" cy="35.00" r="1.1" fill="#663c26"/>
<circle cx="115.01" cy="35.00" r="1.1" fill="#663c26"/>
<circle cx="119.08" cy="35.00" r="1.1" fill="#663c26"/>
<circle cx="123.15" cy="35.00" r="1.1" fill="#663c26"/>
<circle cx="127.22" cy="35.00" r="1.1" fill="#663c26"/>
<circle cx="131.29" cy="35.00" r="1.1" fill="#663c26"/>
<circle cx="135.36" cy="35.00" r="1.1" fill="#663c26"/>
<circle cx="139.43" cy="35.00" r="1.1" fill="#663c26"/>
<circle cx="143.50" cy="35.00" r="1.1" fill="#663c26"/>
<circle cx="53.90" cy="38.85" r="1.1" fill="#663c26"/>
<circle cx="53.90" cy="42.90" r="1.1" fill="#663c26"/>
<circle cx="53.90" cy="46.95" r="1.1" fill="#663c26"/>
<circle cx="53.90" cy="51.00" r="1.1" fill="#663c26"/>
<circle cx="53.90" cy="55.05" r="1.1" fill="#663c26"/>
<circle cx="53.90" cy="59.10" r="1.1" fill="#663c26"/>
<circle cx="53.90" cy="63.15" r="1.1" fill="#663c26"/>
<circle cx="53.90" cy="67.20" r="1.1" fill="#663c26"/>
<circle cx="53.90" cy="71.26" r="1.1" fill="#663c26"/>
<circle cx="53.90" cy="75.31" r="1.1" fill="#663c26"/>
<circle cx="53.90" cy="79.36" r="1.1" fill="#663c26"/>
<circle cx="53.90" cy="83.41" r="1.1" fill="#663c26"/>
<circle cx="53.90" cy="87.46" r="1.1" fill="#663c26"/>
<circle cx="53.90" cy="91.51" r="1.1" fill="#663c26"/>
<circle cx="53.90" cy="95.56" r="1.1" fill="#663c26"/>
<circle cx="53.90" cy="99.61" r="1.1" fill="#663c26"/>
<circle cx="53.90" cy="103.66" r="1.1" fill="#663c26"/>
<circle cx="53.90" cy="107.71" r="1.1" fill="#663c26"/>
<circle cx="53.90" cy="111.76" r="1.1" fill="#663c26"/>
<circle cx="53.90" cy="115.81" r="1.1" fill="#663c26"/>
<circle cx="53.90" cy="119.86" r="1.1" fill="#663c26"/>
<circle cx="53.90" cy="123.91" r="1.1" fill="#663c26"/>
<circle cx="53.90" cy="127.96" r="1.1" fill="#663c26"/>
<circle cx="53.90" cy="132.01" r="1.1" fill="#663c26"/>
<circle cx="53.90" cy="136.07" r="1.1" fill="#663c26"/>
<circle cx="53.90" cy="140.12" r="1.1" fill="#663c26"/>
<circle cx="53.90" cy="144.17" r="1.1" fill="#663c26"/>
<circle cx="53.90" cy="148.22" r="1.1" fill="#663c26"/>
<circle cx="53.90" cy="152.27" r="1.1" fill="#663c26"/>
<circle cx="53.90" cy="156.32" r="1.1" fill="#663c26"/>
<circle cx="53.90" cy="160.37" r="1.1" fill="#663c26"/>
<circle cx="53.90" cy="164.42" r="1.1" fill="#663c26"/>
<circle cx="53.90" cy="168.47" r="1.1" fill="#663c26"/>
<circle cx="53.90" cy="172.52" r="1.1" fill="#663c26"/>
<circle cx="53.90" cy="176.57" r="1.1" fill="#663c26"/>
<circle cx="53.90" cy="180.62" r="1.1" fill="#663c26"/>
<circle cx="53.90" cy="184.67" r="1.1" fill="#663c26"/>
<circle cx="53.90" cy="188.72" r="1.1" fill="#663c26"/>
<circle cx="53.90" cy="192.77" r="1.1" fill="#663c26"/>
<circle cx="53.90" cy="196.82" r="1.1" fill="#663c26"/>
<circle cx="53.90" cy="200.88" r="1.1" fill="#663c26"/>
<circle cx="53.90" cy="204.93" r="1.1" fill="#663c26"/>
<circle cx="53.90" cy="208.98" r="1.1" fill="#663c26"/>
<circle cx="53.90" cy="213.03" r="1.1" fill="#663c26"/>
<circle cx="53.90" cy="217.08" r="1.1" fill="#663c26"/>
<circle cx="53.90" cy="221.13" r="1.1" fill="#663c26"/>
<circle cx="53.90" cy="225.18" r="1.1" fill="#663c26"/>
<circle cx="53.90" cy="229.23" r="1.1" fill="#663c26"/>
<circle cx="53.90" cy="233.28" r="1.1" fill="#663c26"/>
<circle cx="53.90" cy="237.33" r="1.1" fill="#663c26"/>
<circle cx="53.90" cy="241.38" r="1.1" fill="#663c26"/>
<circle cx="53.90" cy="245.43" r="1.1" fill="#663c26"/>
<circle cx="53.90" cy="249.48" r="1.1" fill="#663c26"/>
<circle cx="53.90" cy="253.53" r="1.1" fill="#663c26"/>
<circle cx="53.90" cy="257.58" r="1.1" fill="#663c26"/>
<circle cx="53.90" cy="261.63" r="1.1" fill="#663c26"/>
<circle cx="53.90" cy="265.69" r="1.1" fill="#663c26"/>
<circle cx="53.90" cy="269.74" r="1.1" fill="#663c26"/>
<circle cx="53.90" cy="273.79" r="1.1" fill="#663c26"/>
<circle cx="53.90" cy="277.84" r="1.1" fill="#663c26"/>
<circle cx="53.90" cy="281.89" r="1.1" fill="#663c26"/>
<circle cx="53.90" cy="285.94" r="1.1" fill="#663c26"/>
<circle cx="53.90" cy="289.99" r="1.1" fill="#663c26"/>
<circle cx="53.90" cy="294.04" r="1.1" fill="#663c26"/>
<circle cx="53.90" cy="298.09" r="1.1" fill="#663c26"/>
<circle cx="53.90" cy="302.14" r="1.1" fill="#663c26"/>
<circle cx="53.90" cy="306.19" r="1.1" fill="#663c26"/>
<circle cx="53.90" cy="310.24" r="1.1" fill="#663c26"/>
<circle cx="53.90" cy="314.29" r="1.1" fill="#663c26"/>
<circle cx="53.90" cy="318.34" r="1.1" fill="#663c26"/>
<circle cx="53.90" cy="322.39" r="1.1" fill="#663c26"/>
<circle cx="53.90" cy="326.44" r="1.1" fill="#663c26"/>
<circle cx="53.90" cy="330.50" r="1.1" fill="#663c26"/>
<circle cx="53.90" cy="334.55" r="1.1" fill="#663c26"/>
<circle cx="53.90" cy="338.60" r="1.1" fill="#663c26"/>
<circle cx="53.90" cy="342.65" r="1.1" fill="#663c26"/>
<circle cx="53.90" cy="346.70" r="1.1" fill="#663c26"/>
<circle cx="53.90" cy="350.75" r="1.1" fill="#663c26"/>
<circle cx="53.90" cy="354.80" r="1.1" fill="#663c26"/>
<circle cx="53.90" cy="358.85" r="1.1" fill="#663c26"/>
<circle cx="53.90" cy="362.90" r="1.1" fill="#663c26"/>
<circle cx="54.00" cy="363.00" r="1.1" fill="#663c26"/>
<circle cx="57.59" cy="363.00" r="1.1" fill="#663c26"/>
<circle cx="61.18" cy="363.00" r="1.1" fill="#663c26"/>
<circle cx="64.76" cy="363.00" r="1.1" fill="#663c26"/>
<circle cx="68.35" cy="363.00" r="1.1" fill="#663c26"/>
<circle cx="71.94" cy="363.00" r="1.1" fill="#663c26"/>
<circle cx="75.53" cy="363.00" r="1.1" fill="#663c26"/>
<circle cx="79.12" cy="363.00" r="1.1" fill="#663c26"/>
<circle cx="82.70" cy="363.00" r="1.1" fill="#663c26"/>
<circle cx="86.29" cy="363.00" r="1.1" fill="#663c26"/>
<circle cx="89.88" cy="363.00" r="1.1" fill="#663c26"/>
<circle cx="93.47" cy="363.00" r="1.1" fill="#663c26"/>
<circle cx="97.06" cy="363.00" r="1.1" fill="#663c26"/>
<circle cx="100.64" cy="363.00" r="1.1" fill="#663c26"/>
<circle cx="104.23" cy="363.00" r="1.1" fill="#663c26"/>
<circle cx="107.82" cy="363.00" r="1.1" fill="#663c26"/>
<circle cx="111.41" cy="363.00" r="1.1" fill="#663c26"/>
<circle cx="115.00" cy="363.00" r="1.1" fill="#663c26"/>
<circle cx="118.58" cy="363.00" r="1.1" fill="#663c26"/>
<circle cx="122.17" cy="363.00" r="1.1" fill="#663c26"/>
<circle cx="125.76" cy="363.00" r="1.1" fill="#663c26"/>
<circle cx="129.35" cy="363.00" r="1.1" fill="#663c26"/>
<circle cx="132.94" cy="363.00" r="1.1" fill="#663c26"/>
<circle cx="136.52" cy="363.00" r="1.1" fill="#663c26"/>
<circle cx="140.11" cy="363.00" r="1.1" fill="#663c26"/>
<circle cx="143.70" cy="363.00" r="1.1" fill="#663c26"/>
<circle cx="145.85" cy="37.10" r="1.1" fill="#663c26"/>
<circle cx="145.85" cy="41.15" r="1.1" fill="#663c26"/>
<circle cx="145.85" cy="45.20" r="1.1" fill="#663c26"/>
<circle cx="145.85" cy="49.25" r="1.1" fill="#663c26"/>
<circle cx="145.85" cy="53.30" r="1.1" fill="#663c26"/>
<circle cx="145.85" cy="57.35" r="1.1" fill="#663c26"/>
<circle cx="145.85" cy="61.40" r="1.1" fill="#663c26"/>
<circle cx="145.85" cy="65.45" r="1.1" fill="#663c26"/>
<circle cx="145.85" cy="69.50" r="1.1" fill="#663c26"/>
<circle cx="145.85" cy="73.55" r="1.1" fill="#663c26"/>
<circle cx="145.85" cy="77.60" r="1.1" fill="#663c26"/>
<circle cx="145.85" cy="81.65" r="1.1" fill="#663c26"/>
<circle cx="145.85" cy="85.70" r="1.1" fill="#663c26"/>
<circle cx="145.85" cy="89.75" r="1.1" fill="#663c26"/>
<circle cx="145.85" cy="93.80" r="1.1" fill="#663c26"/>
<circle cx="145.85" cy="97.85" r="1.1" fill="#663c26"/>
<circle cx="145.85" cy="101.90" r="1.1" fill="#663c26"/>
<circle cx="145.85" cy="105.95" r="1.1" fill="#663c26"/>
<circle cx="145.85" cy="110.00" r="1.1" fill="#663c26"/>
<circle cx="145.85" cy="114.05" r="1.1" fill="#663c26"/>
<circle cx="145.85" cy="118.10" r="1.1" fill="#663c26"/>
<circle cx="145.85" cy="122.15" r="1.1" fill="#663c26"/>
<circle cx="145.85" cy="126.20" r="1.1" fill="#663c26"/>
<circle cx="145.85" cy="130.25" r="1.1" fill="#663c26"/>
<circle cx="145.85" cy="134.30" r="1.1" fill="#663c26"/>
<circle cx="145.85" cy="138.35" r="1.1" fill="#663c26"/>
<circle cx="145.85" cy="142.40" r="1.1" fill="#663c26"/>
<circle cx="145.85" cy="146.45" r="1.1" fill="#663c26"/>
<circle cx="145.85" cy="150.50" r="1.1" fill="#663c26"/>
<circle cx="145.85" cy="154.55" r="1.1" fill="#663c26"/>
<circle cx="145.85" cy="158.60" r="1.1" fill="#663c26"/>
<circle cx="145.85" cy="162.65" r="1.1" fill="#663c26"/>
<circle cx="145.85" cy="166.70" r="1.1" fill="#663c26"/>
<circle cx="145.85" cy="170.75" r="1.1" fill="#663c26"/>
<circle cx="145.85" cy="174.80" r="1.1" fill="#663c26"/>
<circle cx="145.85" cy="178.85" r="1.1" fill="#663c26"/>
<circle cx="145.85" cy="182.90" r="1.1" fill="#663c26"/>
<circle cx="145.85" cy="186.95" r="1.1" fill="#663c26"/>
<circle cx="145.85" cy="191.00" r="1.1" fill="#663c26"/>
<circle cx="145.85" cy="195.05" r="1.1" fill="#663c26"/>
<circle cx="145.85" cy="199.10" r="1.1" fill="#663c26"/>
<circle cx="145.85" cy="203.15" r="1.1" fill="#663c26"/>
<circle cx="145.85" cy="207.20" r="1.1" fill="#663c26"/>
<circle cx="145.85" cy="211.25" r="1.1" fill="#663c26"/>
<circle cx="145.85" cy="215.30" r="1.1" fill="#663c26"/>
<circle cx="145.85" cy="219.35" r="1.1" fill="#663c26"/>
<circle cx="145.85" cy="223.40" r="1.1" fill="#663c26"/>
<circle cx="145.85" cy="227.45" r="1.1" fill="#663c26"/>
<circle cx="145.85" cy="231.50" r="1.1" fill="#663c26"/>
<circle cx="145.85" cy="235.55" r="1.1" fill="#663c26"/>
<circle cx="145.85" cy="239.60" r="1.1" fill="#663c26"/>
<circle cx="145.85" cy="243.65" r="1.1" fill="#663c26"/>
<circle cx="145.85" cy="247.70" r="1.1" fill="#663c26"/>
<circle cx="145.85" cy="251.75" r="1.1" fill="#663c26"/>
<circle cx="145.85" cy="255.80" r="1.1" fill="#663c26"/>
<circle cx="145.85" cy="259.85" r="1.1" fill="#663c26"/>
<circle cx="145.85" cy="263.90" r="1.1" fill="#663c26"/>
<circle cx="145.85" cy="267.95" r="1.1" fill="#663c26"/>
<circle cx="145.85" cy="272.00" r="1.1" fill="#663c26"/>
<circle cx="145.85" cy="276.05" r="1.1" fill="#663c26"/>
<circle cx="145.85" cy="280.10" r="1.1" fill="#663c26"/>
<circle cx="145.85" cy="284.15" r="1.1" fill="#663c26"/>
<circle cx="145.85" cy="288.20" r="1.1" fill="#663c26"/>
<circle cx="145.85" cy="292.25" r="1.1" fill="#663c26"/>
<circle cx="145.85" cy="296.30" r="1.1" fill="#663c26"/>
<circle cx="145.85" cy="300.35" r="1.1" fill="#663c26"/>
<circle cx="145.85" cy="304.40" r="1.1" fill="#663c26"/>
<circle cx="145.85" cy="308.45" r="1.1" fill="#663c26"/>
<circle cx="145.85" cy="312.50" r="1.1" fill="#663c26"/>
<circle cx="145.85" cy="316.55" r="1.1" fill="#663c26"/>
<circle cx="145.85" cy="320.60" r="1.1" fill="#663c26"/>
<circle cx="145.85" cy="324.65" r="1.1" fill="#663c26"/>
<circle cx="145.85" cy="328.70" r="1.1" fill="#663c26"/>
<circle cx="145.85" cy="332.75" r="1.1" fill="#663c26"/>
<circle cx="145.85" cy="336.80" r="1.1" fill="#663c26"/>
<circle cx="145.85" cy="340.85" r="1.1" fill="#663c26"/>
<circle cx="145.85" cy="344.90" r="1.1" fill="#663c26"/>
<circle cx="145.85" cy="348.95" r="1.1" fill="#663c26"/>
<circle cx="145.85" cy="353.00" r="1.1" fill="#663c26"/>
<circle cx="145.85" cy="357.05" r="1.1" fill="#663c26"/>
<circle cx="145.85" cy="361.10" r="1.1" fill="#663c26"/>
<text transform="translate(30.1,255.04999999999998) rotate(-90)" font-size="11" font-weight="bold" fill="#111" style="stroke-width:0.42px" textLength="20.94999999999999" lengthAdjust="spacingAndGlyphs">Gly</text>
<text transform="translate(48.6,255.04999999999998) rotate(-90)" font-size="11" font-weight="bold" fill="#111" style="stroke-width:0.42px" textLength="19.25" lengthAdjust="spacingAndGlyphs">Val</text>
<text transform="translate(67.2,258.35) rotate(-90)" font-size="11" font-weight="bold" fill="#111" style="stroke-width:0.42px" textLength="21.44999999999999" lengthAdjust="spacingAndGlyphs">Lys</text>
<text transform="translate(86.7,261.05) rotate(-90)" font-size="11" font-weight="bold" fill="#111" style="stroke-width:0.42px" textLength="24.149999999999977" lengthAdjust="spacingAndGlyphs">Asn</text>
<text transform="translate(103.6,255.65) rotate(-90)" font-size="11" font-weight="bold" fill="#111" style="stroke-width:0.42px" textLength="20.450000000000017" lengthAdjust="spacingAndGlyphs">Ala</text>
<text transform="translate(122.7,261.05) rotate(-90)" font-size="11" font-weight="bold" fill="#111" style="stroke-width:0.42px" textLength="24.149999999999977" lengthAdjust="spacingAndGlyphs">Asp</text>
<text transform="translate(141.2,256.15000000000003) rotate(-90)" font-size="11" font-weight="bold" fill="#111" style="stroke-width:0.42px" textLength="18.75" lengthAdjust="spacingAndGlyphs">Pro</text>
<text transform="translate(158.0,257.25) rotate(-90)" font-size="11" font-weight="bold" fill="#111" style="stroke-width:0.42px" textLength="22.049999999999983" lengthAdjust="spacingAndGlyphs">Trp</text>
<text transform="translate(177.2,257.25) rotate(-90)" font-size="11" font-weight="bold" fill="#111" style="stroke-width:0.42px" textLength="22.049999999999983" lengthAdjust="spacingAndGlyphs">Thr</text>
<text transform="translate(30.2,337.05) rotate(-90)" font-size="11" font-weight="bold" fill="#111" style="stroke-width:0.42px" textLength="20.75" lengthAdjust="spacingAndGlyphs">Gly</text>
<text transform="translate(47.6,337.85) rotate(-90)" font-size="11" font-weight="bold" fill="#111" style="stroke-width:0.42px" textLength="18.55000000000001" lengthAdjust="spacingAndGlyphs">Val</text>
<text transform="translate(66.2,341.35) rotate(-90)" font-size="11" font-weight="bold" fill="#111" style="stroke-width:0.42px" textLength="22.75" lengthAdjust="spacingAndGlyphs">Lys</text>
<text transform="translate(84.5,343.65000000000003) rotate(-90)" font-size="11" font-weight="bold" fill="#111" style="stroke-width:0.42px" textLength="24.25" lengthAdjust="spacingAndGlyphs">Asn</text>
<text transform="translate(102.5,338.15000000000003) rotate(-90)" font-size="11" font-weight="bold" fill="#111" style="stroke-width:0.42px" textLength="20.350000000000023" lengthAdjust="spacingAndGlyphs">Ala</text>
<text transform="translate(120.5,343.65000000000003) rotate(-90)" font-size="11" font-weight="bold" fill="#111" style="stroke-width:0.42px" textLength="23.650000000000034" lengthAdjust="spacingAndGlyphs">Asp</text>
<text transform="translate(137.7,340.05) rotate(-90)" font-size="11" font-weight="bold" fill="#111" style="stroke-width:0.42px" textLength="20.349999999999966" lengthAdjust="spacingAndGlyphs">Pro</text>
<text transform="translate(155.3,340.75) rotate(-90)" font-size="11" font-weight="bold" fill="#111" style="stroke-width:0.42px" textLength="21.049999999999955" lengthAdjust="spacingAndGlyphs">Trp</text>
<text transform="translate(174.2,340.75) rotate(-90)" font-size="11" font-weight="bold" fill="#111" style="stroke-width:0.42px" textLength="22.349999999999966" lengthAdjust="spacingAndGlyphs">Thr</text>
<text x="17.7" y="355.6" font-size="11" font-weight="bold" fill="#111">48</text>
<text x="35.9" y="355.6" font-size="11" font-weight="bold" fill="#111">47</text>
<text x="53.9" y="355.6" font-size="11" font-weight="bold" fill="#111">46</text>
<text x="72.0" y="355.6" font-size="11" font-weight="bold" fill="#111">45</text>
<text x="90.2" y="355.6" font-size="11" font-weight="bold" fill="#111">44</text>
<text x="107.7" y="355.6" font-size="11" font-weight="bold" fill="#111">43</text>
<text x="126.1" y="355.6" font-size="11" font-weight="bold" fill="#111">42</text>
<text x="144.1" y="355.6" font-size="11" font-weight="bold" fill="#111">41</text>
<text x="162.3" y="355.6" font-size="11" font-weight="bold" fill="#111">40</text>
<text x="15.9" y="18.8" font-size="16" font-weight="bold" fill="#111" style="stroke-width:0" textLength="19.0" lengthAdjust="spacingAndGlyphs">(a)</text>
<text x="221.2" y="19.4" font-size="15.5" font-weight="bold" fill="#111" style="stroke-width:0" textLength="20.6" lengthAdjust="spacingAndGlyphs">(b)</text>
<line x1="219.8" y1="54" x2="219.8" y2="316.8" stroke="#111" stroke-width="1.2"/>
<path d="M219.8 49.1 L222.6 55 L217 55 Z" fill="#111"/>
<line x1="219.2" y1="316.2" x2="536.8" y2="316.2" stroke="#111" stroke-width="1.2"/>
<line x1="220" y1="316" x2="220" y2="322.5" stroke="#111" stroke-width="1.2"/>
<line x1="325.5" y1="316" x2="325.5" y2="322.5" stroke="#111" stroke-width="1.2"/>
<line x1="431.2" y1="316" x2="431.2" y2="322.5" stroke="#111" stroke-width="1.2"/>
<line x1="536.3" y1="316" x2="536.3" y2="322.5" stroke="#111" stroke-width="1.2"/>
<line x1="272.8" y1="316" x2="272.8" y2="320.5" stroke="#111" stroke-width="1.2"/>
<line x1="378.4" y1="316" x2="378.4" y2="320.5" stroke="#111" stroke-width="1.2"/>
<line x1="483.7" y1="316" x2="483.7" y2="320.5" stroke="#111" stroke-width="1.2"/>
<text transform="translate(219.05,334.4) scale(1.02,0.95)" font-size="10" font-weight="bold" fill="#111" text-anchor="middle">18</text>
<text transform="translate(325.25,334.4) scale(1.02,0.95)" font-size="10" font-weight="bold" fill="#111" text-anchor="middle">20</text>
<text transform="translate(431.35,334.4) scale(1.02,0.95)" font-size="10" font-weight="bold" fill="#111" text-anchor="middle">22</text>
<text transform="translate(536.75,334.4) scale(1.02,0.95)" font-size="10" font-weight="bold" fill="#111" text-anchor="middle">24</text>
<text transform="translate(378.3,347.9) scale(1,0.93)" font-size="10" font-weight="bold" fill="#111" text-anchor="middle" textLength="52.5" lengthAdjust="spacingAndGlyphs">Time (min)</text>
<text transform="translate(211,108.6) rotate(-90)" font-size="10" font-weight="bold" fill="#111">A</text>
<text transform="translate(215.2,101.6) rotate(-90)" font-size="6.5" font-weight="bold" fill="#111" textLength="28.5" lengthAdjust="spacingAndGlyphs">214 nm</text>
<polyline points="293,301.2 295,300.9 297,300.4 300,299.6 303.5,298.4 306.2,298.2 308.9,297.2 310.3,296.2 313,294.5 316,292 318.5,288 320.5,283 322,276 323.2,267.8 324.4,258.5 325.5,250 326.7,230 327.5,200 328,140 328.6,90 329.4,58 329.9,51.8 330.5,58 331.5,90 332,140 332.5,205 333.3,213 334.4,219 335.6,220.2 336.8,223 337.6,230 338.4,237 339.2,245 340,251.5 341,256 342.1,260.5 344.5,260 346.2,259.6 347.4,256.4 348.2,252.3 349,249 350.5,244.9 352.2,250.4 353.6,245 355.7,238 357.1,240.3 358.7,247.2 359.9,254.1 361.7,261 363.3,264.4 365.6,270.2 367.9,274.8 369.5,269 370.9,254.1 372.5,244.9 373.7,242.1 374.8,247.2 376,261 377.1,270.2 378.7,267.9 381,263.3 381.7,264.4 382.9,273.1 384.4,280.4 386.5,283.3 388.7,286.2 391.6,288.4 394.5,289.8 397.5,289.1 400.4,289.8 402.5,290.5 404.7,287.6 406.9,285.9 409.1,286.2 410.5,290.5 412.7,292.7 415.6,292.3 418.5,291.7 420.7,292.3 422.9,294.9 426.5,296.4 430.9,296.4 435.3,297.5 439.6,298.1 442.5,298.5 445.5,299.3 449.8,300 455.6,300.7 460,300.9 471.4,301.8 487.7,302.6 500,302.2 504,301.5 508,302.4 520.5,303.8 536,304.6" fill="none" stroke="#8a8a8a" stroke-width="1.8" stroke-linejoin="round"/>
<polyline points="220,304.8 223.6,304.5 227.3,304.1 230.9,304.5 234.5,304.3 238.2,304.1 241.8,303.7 244,303.1 246.2,303.7 248.4,303.4 249.5,301.6 250.5,301.7 252,303 254.2,303.6 256.4,303.6 260,303.2 261.6,303.4 265.3,303.6 268.9,303.4 272.5,303.6 276.2,303.3 279.8,302.9 283.5,302.2 287.1,301.5 290.7,300.9 292.9,300 294.4,298.5 295.8,297.5 298,296.8 300.1,296.6 302.5,295.5 304.2,292.5 305.5,292.2 307.2,294.2 308.6,294.5 310.3,292.8 313,292.5 315,292.2 316.4,290.8 317.7,288.1 319.1,284.1 320.1,280 321.6,274 323.2,267.8 324.4,258.5 325.5,250 326.7,230 327.5,200 328,140 328.6,90 329.4,62 330,56.5 330.6,62 331.5,90 332,140 332.5,205 333.3,213.1 334.4,219.6 335.4,220.4 336,221.2 336.5,226.1 337.3,232.6 338.2,237.4 338.9,245 339.7,253.1 340.5,258 341.7,262 343.3,263.2 344.5,264.1 345.8,266.1 347,268.9 348.2,269.7 349.8,268.1 351,267.7 352.7,268.5 353.9,265.3 355.5,258.8 356.3,257.2 357.5,259.2 359.3,267.4 360.9,272.3 363.4,276.3 365.8,280.4 368.2,282 369.8,282.8 371.5,278.8 373.1,271.5 374.4,266.6 375.5,269 376.8,275.5 378.4,280.4 380.4,278 382,281.2 383.6,282.8 385.2,282 386.9,284.4 390.1,286.9 394.2,291.7 396,294.2 398.9,295.6 401.8,296.4 404.7,297.1 406.9,298.5 409.1,298.5 413.5,298.1 417.8,297.8 422.2,297.5 425.1,299.3 429.5,300.4 433.8,301.2 438.2,301.9 442.5,302.2 446.9,302.6 452.7,302.6 460,302.5 471.4,302.3 487.7,303.2 504.1,303.2 520.5,304.2 536,304.9" fill="none" stroke="#3a140c" stroke-width="1.7" stroke-linejoin="round"/>
<text x="316.6" y="62.8" font-size="10" font-weight="bold" fill="#111">A</text>
<text x="345.3" y="239.5" font-size="10" font-weight="bold" fill="#111">B</text>
<text x="352.8" y="232.5" font-size="10" font-weight="bold" fill="#111">C</text>
<text x="370.2" y="238.4" font-size="10" font-weight="bold" fill="#111">D</text>
<text x="379.9" y="259.8" font-size="10" font-weight="bold" fill="#111">E</text>
<rect x="348.3" y="46.6" width="188.3" height="130.3" fill="#fff" stroke="#1a1a1a" stroke-width="1.3"/>
<line x1="348.3" y1="80.9" x2="536.6" y2="80.9" stroke="#1a1a1a" stroke-width="1.3"/>
<line x1="348.3" y1="100.5" x2="536.6" y2="100.5" stroke="#1a1a1a" stroke-width="1.3"/>
<line x1="348.3" y1="119.7" x2="536.6" y2="119.7" stroke="#1a1a1a" stroke-width="1.3"/>
<line x1="348.3" y1="139.0" x2="536.6" y2="139.0" stroke="#1a1a1a" stroke-width="1.3"/>
<line x1="348.3" y1="158.1" x2="536.6" y2="158.1" stroke="#1a1a1a" stroke-width="1.3"/>
<line x1="424.3" y1="46.6" x2="424.3" y2="176.9" stroke="#1a1a1a" stroke-width="1.3"/>
<line x1="480.9" y1="46.6" x2="480.9" y2="176.9" stroke="#1a1a1a" stroke-width="1.3"/>
<line x1="373.8" y1="80.9" x2="373.8" y2="176.9" stroke="#1a1a1a" stroke-width="1.3"/>
<text x="386.3" y="59.8" font-size="10.5" font-weight="bold" fill="#111" text-anchor="middle" >Peptide</text>
<text x="386.0" y="75.9" font-size="10.5" font-weight="bold" fill="#111" text-anchor="middle" >sequence</text>
<text x="452.6" y="59.9" font-size="10.5" font-weight="bold" fill="#111" text-anchor="middle" >RT</text>
<text x="452.6" y="75.4" font-size="10" font-weight="bold" fill="#111" text-anchor="middle" textLength="41.0" lengthAdjust="spacingAndGlyphs">[area %]</text>
<text x="495.3" y="59.9" font-size="10.5" font-weight="bold" fill="#111" text-anchor="start" >50</text>
<text x="510.9" y="59.9" font-size="10.5" font-weight="bold" fill="#111" text-anchor="start" >°C</text>
<text x="508.4" y="75.4" font-size="10" font-weight="bold" fill="#111" text-anchor="middle" textLength="39.8" lengthAdjust="spacingAndGlyphs">[area %]</text>
<text x="361.0" y="94.8" font-size="10.5" font-weight="bold" fill="#111" text-anchor="middle" >A</text>
<text x="380.0" y="94.8" font-size="10.5" font-weight="bold" fill="#111" text-anchor="start" >2-80</text>
<text x="461.6" y="94.8" font-size="10.5" font-weight="bold" fill="#111" text-anchor="end" >23.8</text>
<text x="517.6" y="94.8" font-size="10.5" font-weight="bold" fill="#111" text-anchor="end" >31.2</text>
<text x="361.0" y="114.0" font-size="10.5" font-weight="bold" fill="#111" text-anchor="middle" >B</text>
<text x="380.0" y="114.0" font-size="10.5" font-weight="bold" fill="#111">25-80<tspan font-size="8" dy="-4.4">Ac</tspan></text>
<text x="461.6" y="114.0" font-size="10.5" font-weight="bold" fill="#111" text-anchor="end" >6.2</text>
<text x="517.6" y="114.0" font-size="10.5" font-weight="bold" fill="#111" text-anchor="end" >3.9</text>
<text x="361.0" y="133.2" font-size="10.5" font-weight="bold" fill="#111" text-anchor="middle" >C</text>
<text x="380.0" y="133.2" font-size="10.5" font-weight="bold" fill="#111">36-80<tspan font-size="8" dy="-4.4">Ac</tspan></text>
<text x="461.6" y="133.2" font-size="10.5" font-weight="bold" fill="#111" text-anchor="end" >7.9</text>
<text x="517.6" y="133.2" font-size="10.5" font-weight="bold" fill="#111" text-anchor="end" >4.9</text>
<text x="361.0" y="152.39999999999998" font-size="10.5" font-weight="bold" fill="#111" text-anchor="middle" >D</text>
<text x="380.0" y="152.39999999999998" font-size="10.5" font-weight="bold" fill="#111">42-80<tspan font-size="8" dy="-4.4">Ac</tspan></text>
<text x="461.6" y="152.39999999999998" font-size="10.5" font-weight="bold" fill="#111" text-anchor="end" >4.5</text>
<text x="517.6" y="152.39999999999998" font-size="10.5" font-weight="bold" fill="#111" text-anchor="end" >2.6</text>
<text x="361.0" y="171.6" font-size="10.5" font-weight="bold" fill="#111" text-anchor="middle" >E</text>
<text x="380.0" y="171.6" font-size="10.5" font-weight="bold" fill="#111">46-80<tspan font-size="8" dy="-4.4">Ac</tspan></text>
<text x="461.6" y="171.6" font-size="10.5" font-weight="bold" fill="#111" text-anchor="end" >3.3</text>
<text x="517.6" y="171.6" font-size="10.5" font-weight="bold" fill="#111" text-anchor="end" >2.5</text>
</svg>
</body></html>
